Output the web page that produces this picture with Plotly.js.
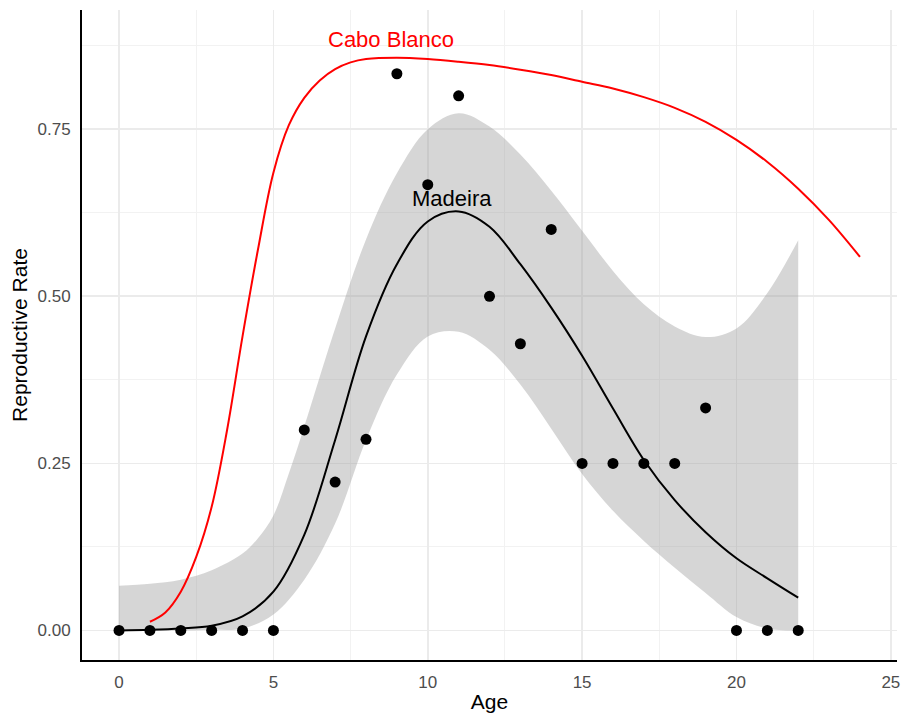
<!DOCTYPE html>
<html>
<head>
<meta charset="utf-8">
<script src="https://cdn.plot.ly/plotly-3.0.1.min.js"></script>
<style>html,body{margin:0;padding:0;background:#fff;}#chart{width:901px;height:713px;}</style>
</head>
<body>
<div id="chart"></div>
<script>
// Observed Madeira data
var ageObs = [0,1,2,3,4,5,6,7,8,9,10,11,12,13,14,15,16,17,18,19,20,21,22];
var rateObs = [0,0,0,0,0,0,0.30,0.222,0.286,0.833,0.667,0.80,0.50,0.429,0.60,0.25,0.25,0.25,0.25,0.333,0,0,0];

// Madeira fitted curve
var fitAge = [0,1,2,3,4,5,6,7,8,9,10,11,12,13,14,15,16,17,18,19,20,21,22];
var fitRate = [0.000,0.001,0.003,0.007,0.021,0.058,0.143,0.285,0.440,0.548,0.612,0.627,0.604,0.548,0.483,0.411,0.332,0.255,0.195,0.147,0.108,0.078,0.049];

// Confidence band (lower / upper)
var lowerAge = [0,1,2,3,4,5,6,7,8,9,10,11,12,13,14,15,16,17,18,19,20,21,22];
var bandLower = [0.000,0.000,0.000,0.001,0.003,0.024,0.076,0.160,0.285,0.383,0.440,0.447,0.420,0.368,0.302,0.234,0.179,0.134,0.094,0.056,0.020,0.003,0.000];
var upperAge = [0,1,2,3,4,4.5,5,5.5,6,7,8,9,10,11,12,13,14,15,16,17,18,19,20,21,22];
var bandUpper = [0.067,0.070,0.076,0.090,0.115,0.138,0.172,0.235,0.305,0.452,0.585,0.684,0.750,0.774,0.754,0.712,0.658,0.598,0.538,0.488,0.455,0.439,0.452,0.505,0.584];

// Cabo Blanco curve
var caboAge = [1.0,1.5,2.0,2.5,3.0,3.5,4.0,4.5,5.0,5.5,6.0,6.5,7.0,7.5,8.0,9,10,11,12,13,14,15,16,17,18,19,20,21,22,23,24];
var caboRate = [0.013,0.027,0.058,0.110,0.185,0.300,0.440,0.570,0.685,0.756,0.797,0.823,0.840,0.850,0.855,0.857,0.855,0.851,0.846,0.839,0.831,0.821,0.811,0.798,0.782,0.761,0.734,0.701,0.661,0.614,0.559];

// Labels
var labelNames = ["Cabo Blanco","Madeira"];
var labelX = [8.82, 10.79];
var labelY = [0.884, 0.646];
var labelColors = ["#ff0000","#000000"];

var sm = 1;
var traces = [
  {x: lowerAge, y: bandLower, type:'scatter', mode:'lines', line:{width:0, shape:'spline', smoothing:sm}, hoverinfo:'skip', showlegend:false},
  {x: upperAge, y: bandUpper, type:'scatter', mode:'lines', fill:'tonexty',
   fillcolor:'rgba(153,153,153,0.4)', line:{width:0, shape:'spline', smoothing:sm}, hoverinfo:'skip', showlegend:false},
  {x: ageObs, y: rateObs, type:'scatter', mode:'markers', marker:{color:'#000', size:11}, showlegend:false},
  {x: fitAge, y: fitRate, type:'scatter', mode:'lines', line:{color:'#000', width:2, shape:'spline', smoothing:sm}, showlegend:false},
  {x: caboAge, y: caboRate, type:'scatter', mode:'lines', line:{color:'#ff0000', width:2, shape:'spline', smoothing:sm}, showlegend:false}
];

var annotations = labelNames.map(function(t,i){
  return {x: labelX[i], y: labelY[i], xref:'x', yref:'y', text:t, showarrow:false,
          font:{family:'Liberation Sans, Arial, sans-serif', size:22, color:labelColors[i]},
          xanchor:'center', yanchor:'middle'};
});

var layout = {
  width:901, height:713,
  margin:{l:82, r:4, t:10, b:53},
  paper_bgcolor:'#fff', plot_bgcolor:'#fff',
  font:{family:'Liberation Sans, Arial, sans-serif'},
  showlegend:false,
  xaxis:{range:[-1.2,25.2], tickvals:[0,5,10,15,20,25], ticktext:['0','5','10','15','20','25'],
    showgrid:true, gridcolor:'#ebebeb', gridwidth:1.6, zeroline:false,
    showline:true, linecolor:'#000', linewidth:2, ticks:'', ticklabelstandoff:6,
    tickfont:{size:17, color:'#4d4d4d'},
    minor:{tickvals:[-2.5,2.5,7.5,12.5,17.5,22.5], showgrid:true, gridcolor:'#f2f2f2', gridwidth:1},
    title:{text:'Age', font:{size:21, color:'#000'}, standoff:3}},
  yaxis:{range:[-0.0442,0.9284], tickvals:[0,0.25,0.5,0.75], ticktext:['0.00','0.25','0.50','0.75'],
    showgrid:true, gridcolor:'#ebebeb', gridwidth:1.6, zeroline:false,
    showline:true, linecolor:'#000', linewidth:2, ticks:'', ticklabelstandoff:6,
    tickfont:{size:17, color:'#4d4d4d'},
    minor:{tickvals:[0.125,0.375,0.625,0.875], showgrid:true, gridcolor:'#f2f2f2', gridwidth:1},
    title:{text:'Reproductive Rate', font:{size:21, color:'#000'}, standoff:4}},
  annotations: annotations
};

Plotly.newPlot('chart', traces, layout, {displayModeBar:false, staticPlot:true});
</script>
</body>
</html>
